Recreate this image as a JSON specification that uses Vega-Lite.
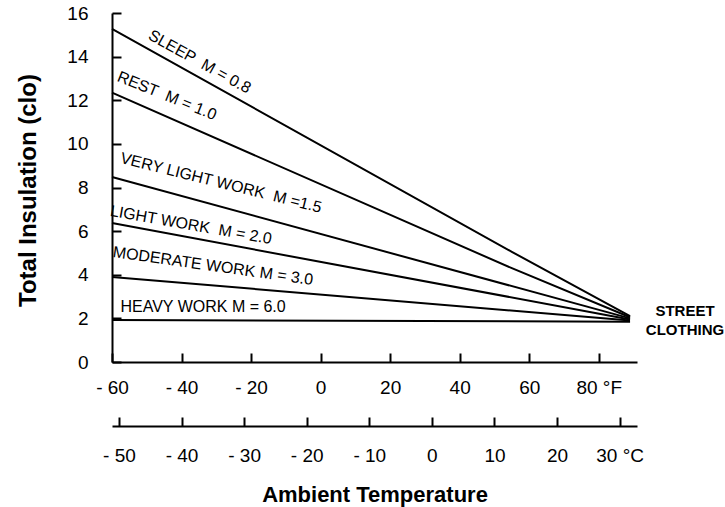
{
  "$schema": "https://vega.github.io/schema/vega-lite/v6.json",
  "width": 525,
  "height": 349,
  "autosize": {"type": "none"},
  "padding": {"left": 112, "top": 13, "right": 88, "bottom": 145},
  "background": "white",
  "config": {
    "view": {"stroke": null},
    "font": "Liberation Sans",
    "axis": {
      "grid": false,
      "domainColor": "black",
      "tickColor": "black",
      "labelColor": "black",
      "titleColor": "black",
      "domainWidth": 2,
      "tickWidth": 2
    },
    "text": {"fontSize": 16, "align": "center", "baseline": "middle", "color": "black"}
  },
  "datasets": {
    "lines": [
      {"series": "SLEEP", "F": -60, "clo": 15.27},
      {"series": "SLEEP", "F": 55, "clo": 5.05},
      {"series": "SLEEP", "F": 89, "clo": 2.1},
      {"series": "REST", "F": -60, "clo": 12.35},
      {"series": "REST", "F": 55, "clo": 4.3},
      {"series": "REST", "F": 89, "clo": 2.05},
      {"series": "VERY LIGHT WORK", "F": -60, "clo": 8.48},
      {"series": "VERY LIGHT WORK", "F": 89, "clo": 2.0},
      {"series": "LIGHT WORK", "F": -60, "clo": 6.37},
      {"series": "LIGHT WORK", "F": 89, "clo": 1.95},
      {"series": "MODERATE WORK", "F": -60, "clo": 3.9},
      {"series": "MODERATE WORK", "F": 89, "clo": 1.9},
      {"series": "HEAVY WORK", "F": -60, "clo": 1.93},
      {"series": "HEAVY WORK", "F": 89, "clo": 1.85}
    ],
    "labels": [
      {"key": "sleep", "text": "SLEEP\u00a0 M = 0.8", "F": -34.8, "clo": 13.76},
      {"key": "rest", "text": "REST\u00a0 M = 1.0", "F": -44.2, "clo": 12.2},
      {"key": "vlight", "text": "VERY LIGHT WORK\u00a0 M =1.5", "F": -28.65, "clo": 8.21},
      {"key": "light", "text": "LIGHT WORK\u00a0 M = 2.0", "F": -37.3, "clo": 6.28},
      {"key": "moderate", "text": "MODERATE WORK M = 3.0", "F": -30.95, "clo": 4.4},
      {"key": "heavy", "text": "HEAVY WORK M = 6.0", "F": -33.8, "clo": 2.52},
      {"key": "street", "text": "STREET\nCLOTHING", "F": 104.8, "clo": 2.34}
    ],
    "celsius": [
      {"C": -50}, {"C": -40}, {"C": -30}, {"C": -20}, {"C": -10},
      {"C": 0}, {"C": 10}, {"C": 20}, {"C": 30}
    ]
  },
  "layer": [
    {
      "data": {"name": "lines"},
      "mark": {"type": "line", "color": "black", "strokeWidth": 2, "clip": false},
      "encoding": {
        "x": {
          "field": "F", "type": "quantitative",
          "scale": {"domain": [-60, 91], "nice": false, "zero": false},
          "axis": {
            "orient": "bottom",
            "values": [-60, -40, -20, 0, 20, 40, 60, 80],
            "tickSize": -9,
            "labelPadding": 25,
            "labelFontSize": 19,
            "labelFlush": false,
            "labelOverlap": false,
            "title": null,
            "labelExpr": "datum.value < 0 ? '- ' + (-datum.value) : (datum.value == 80 ? '\u00a0\u00a0\u00a0\u00a0\u00a080 °F' : '' + datum.value)"
          }
        },
        "y": {
          "field": "clo", "type": "quantitative",
          "scale": {"domain": [0, 16], "nice": false},
          "axis": {
            "values": [0, 2, 4, 6, 8, 10, 12, 14, 16],
            "tickSize": -9,
            "labelPadding": 33,
            "labelFontSize": 19,
            "labelFlush": false,
            "labelOverlap": false,
            "title": "Total Insulation (clo)",
            "titleFontSize": 24,
            "titleFontWeight": "bold",
            "titleAngle": -90,
            "titleX": -84,
            "titleY": 177,
            "titleAlign": "center",
            "titleBaseline": "middle"
          }
        },
        "detail": {"field": "series"}
      }
    },
    {
      "data": {"name": "labels"},
      "transform": [{"filter": "datum.key == 'sleep'"}],
      "mark": {"type": "text", "angle": 29},
      "encoding": {"x": {"field": "F", "type": "quantitative", "scale": {"domain": [-60, 91], "nice": false, "zero": false}, "axis": null}, "y": {"field": "clo", "type": "quantitative"}, "text": {"field": "text"}}
    },
    {
      "data": {"name": "labels"},
      "transform": [{"filter": "datum.key == 'rest'"}],
      "mark": {"type": "text", "angle": 22},
      "encoding": {"x": {"field": "F", "type": "quantitative", "scale": {"domain": [-60, 91], "nice": false, "zero": false}, "axis": null}, "y": {"field": "clo", "type": "quantitative"}, "text": {"field": "text"}}
    },
    {
      "data": {"name": "labels"},
      "transform": [{"filter": "datum.key == 'vlight'"}],
      "mark": {"type": "text", "angle": 14},
      "encoding": {"x": {"field": "F", "type": "quantitative", "scale": {"domain": [-60, 91], "nice": false, "zero": false}, "axis": null}, "y": {"field": "clo", "type": "quantitative"}, "text": {"field": "text"}}
    },
    {
      "data": {"name": "labels"},
      "transform": [{"filter": "datum.key == 'light'"}],
      "mark": {"type": "text", "angle": 10},
      "encoding": {"x": {"field": "F", "type": "quantitative", "scale": {"domain": [-60, 91], "nice": false, "zero": false}, "axis": null}, "y": {"field": "clo", "type": "quantitative"}, "text": {"field": "text"}}
    },
    {
      "data": {"name": "labels"},
      "transform": [{"filter": "datum.key == 'moderate'"}],
      "mark": {"type": "text", "angle": 8},
      "encoding": {"x": {"field": "F", "type": "quantitative", "scale": {"domain": [-60, 91], "nice": false, "zero": false}, "axis": null}, "y": {"field": "clo", "type": "quantitative"}, "text": {"field": "text"}}
    },
    {
      "data": {"name": "labels"},
      "transform": [{"filter": "datum.key == 'heavy'"}],
      "mark": {"type": "text", "angle": 0},
      "encoding": {"x": {"field": "F", "type": "quantitative", "scale": {"domain": [-60, 91], "nice": false, "zero": false}, "axis": null}, "y": {"field": "clo", "type": "quantitative"}, "text": {"field": "text"}}
    },
    {
      "data": {"name": "labels"},
      "transform": [{"filter": "datum.key == 'street'"}],
      "mark": {"type": "text", "fontSize": 15, "fontWeight": "bold", "lineBreak": "\n", "lineHeight": 19, "clip": false},
      "encoding": {"x": {"field": "F", "type": "quantitative", "scale": {"domain": [-60, 91], "nice": false, "zero": false}, "axis": null}, "y": {"field": "clo", "type": "quantitative"}, "text": {"field": "text"}}
    },
    {
      "data": {"name": "celsius"},
      "mark": {"type": "point", "opacity": 0},
      "encoding": {
        "x": {
          "field": "C", "type": "quantitative",
          "scale": {"domain": [-51.111, 32.778], "nice": false},
          "axis": {
            "orient": "bottom",
            "offset": 64,
            "tickCount": 9,
            "tickSize": -9,
            "labelPadding": 29,
            "labelFontSize": 19,
            "domainColor": "black",
            "domainWidth": 2,
            "labelExpr": "datum.value < 0 ? '- ' + (-datum.value) : (datum.value == 30 ? '\u00a0\u00a0\u00a0\u00a0\u00a030 °C' : '' + datum.value)",
            "title": "Ambient Temperature",
            "titleFontSize": 22,
            "titleFontWeight": "bold",
            "titleY": 68,
            "titleBaseline": "middle"
          }
        }
      }
    }
  ],
  "resolve": {"scale": {"x": "independent"}, "axis": {"x": "independent"}}
}
